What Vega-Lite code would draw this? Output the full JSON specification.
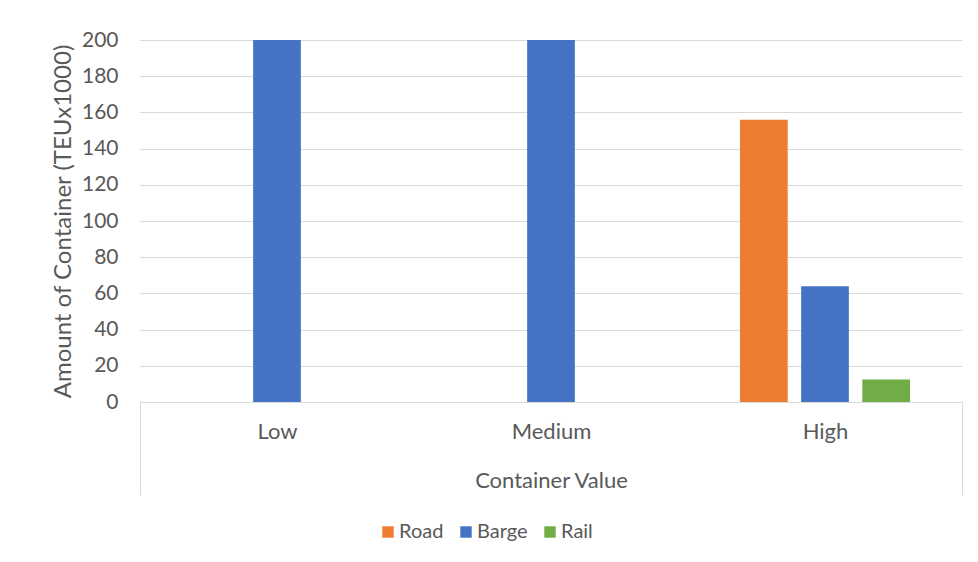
{
  "$schema": "https://vega.github.io/schema/vega-lite/v6.json",
  "width": 822,
  "height": 362,
  "autosize": "none",
  "padding": {"left": 140, "top": 40, "right": 16, "bottom": 160},
  "background": "white",
  "data": {
    "values": [
      {"value_class": "Low", "mode": "Barge", "teu": 200},
      {"value_class": "Medium", "mode": "Barge", "teu": 200},
      {"value_class": "High", "mode": "Road", "teu": 156},
      {"value_class": "High", "mode": "Barge", "teu": 64},
      {"value_class": "High", "mode": "Rail", "teu": 12.4}
    ]
  },
  "mark": {"type": "bar"},
  "encoding": {
    "x": {
      "field": "value_class",
      "type": "nominal",
      "sort": ["Low", "Medium", "High"],
      "scale": {"paddingInner": 0, "paddingOuter": 0},
      "axis": {
        "title": "Container Value",
        "labelAngle": 0,
        "labelFontSize": 22,
        "titleFontSize": 22,
        "domainColor": "#d9d9d9",
        "domainWidth": 1,
        "tickBand": "extent",
        "tickSize": 93,
        "tickColor": "#d9d9d9",
        "tickWidth": 1,
        "tickOpacity": {"condition": {"test": "datum.value === 'High' || datum.extra", "value": 1}, "value": 0},
        "labelPadding": -74,
        "titlePadding": -25
      }
    },
    "xOffset": {
      "field": "mode",
      "type": "nominal",
      "sort": ["Road", "Barge", "Rail"],
      "scale": {"paddingInner": 0.22, "paddingOuter": 0.85}
    },
    "y": {
      "field": "teu",
      "type": "quantitative",
      "scale": {"domain": [0, 200]},
      "axis": {
        "title": "Amount of Container (TEUx1000)",
        "values": [0, 20, 40, 60, 80, 100, 120, 140, 160, 180, 200],
        "domain": false,
        "ticks": false,
        "labelFontSize": 21,
        "titleFontSize": 24,
        "labelPadding": 22,
        "titlePadding": 6,
        "gridColor": "#d9d9d9",
        "gridWidth": 1
      }
    },
    "color": {
      "field": "mode",
      "type": "nominal",
      "sort": ["Road", "Barge", "Rail"],
      "scale": {"domain": ["Road", "Barge", "Rail"], "range": ["#ed7d31", "#4472c4", "#70ad47"]},
      "legend": {
        "title": null,
        "orient": "none",
        "direction": "horizontal",
        "legendX": 238,
        "legendY": 482,
        "symbolType": "square",
        "symbolSize": 130,
        "symbolStrokeWidth": 0,
        "labelOffset": 1,
        "columnPadding": 12
      }
    }
  },
  "config": {
    "font": "Lato",
    "view": {"stroke": null},
    "axis": {
      "labelFont": "Lato",
      "titleFont": "Lato",
      "labelColor": "#595959",
      "titleColor": "#595959",
      "titleFontWeight": "normal"
    },
    "legend": {
      "labelFont": "Lato",
      "labelFontSize": 20,
      "labelColor": "#595959"
    }
  }
}
